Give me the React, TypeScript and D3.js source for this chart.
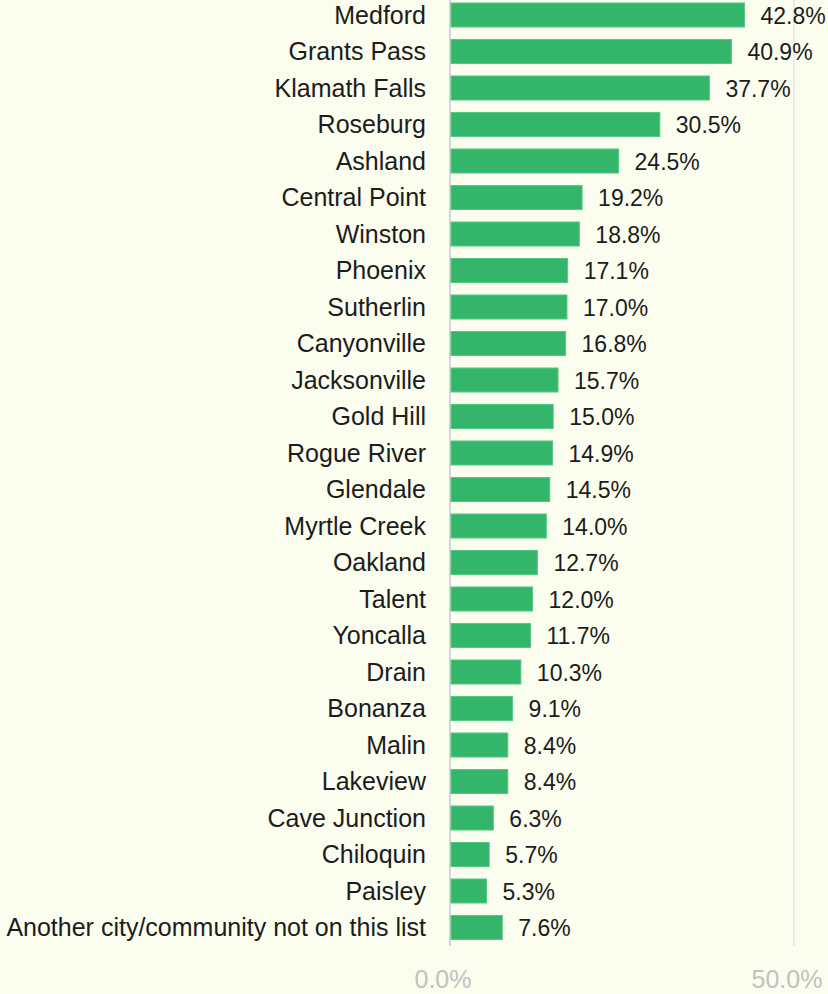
import * as d3 from 'd3'
import { useEffect, useRef } from 'react'

const WIDTH = 828
const HEIGHT = 994
const X0 = 450
const X1 = 794
const FONT = '"Liberation Sans", Arial, sans-serif'

const cities = [
  'Medford', 'Grants Pass', 'Klamath Falls', 'Roseburg', 'Ashland',
  'Central Point', 'Winston', 'Phoenix', 'Sutherlin', 'Canyonville',
  'Jacksonville', 'Gold Hill', 'Rogue River', 'Glendale', 'Myrtle Creek',
  'Oakland', 'Talent', 'Yoncalla', 'Drain', 'Bonanza',
  'Malin', 'Lakeview', 'Cave Junction', 'Chiloquin', 'Paisley',
  'Another city/community not on this list',
]
const shares = [
  42.8, 40.9, 37.7, 30.5, 24.5,
  19.2, 18.8, 17.1, 17.0, 16.8,
  15.7, 15.0, 14.9, 14.5, 14.0,
  12.7, 12.0, 11.7, 10.3, 9.1,
  8.4, 8.4, 6.3, 5.7, 5.3,
  7.6,
]
const ticks = [0, 50]

export default function App() {
  const svgRef = useRef<SVGSVGElement>(null)

  useEffect(() => {
    document.body.style.margin = '0'
    if (!svgRef.current) return
    const svg = d3.select(svgRef.current)
    svg.selectAll('*').remove()

    const rows = cities.map((name, i) => ({ name, value: shares[i] }))

    const x = d3.scaleLinear().domain([0, 50]).range([X0, X1])
    const y = d3.scaleBand<string>()
      .domain(cities)
      .range([-3.25, 945.75])
      .paddingInner(0.342)
      .paddingOuter(0.171)

    svg.append('rect')
      .attr('width', WIDTH)
      .attr('height', HEIGHT)
      .attr('fill', '#fbfdee')

    // gridlines at 0 and 50
    svg.selectAll('.grid')
      .data(ticks)
      .enter()
      .append('line')
      .attr('x1', d => x(d))
      .attr('x2', d => x(d))
      .attr('y1', 0)
      .attr('y2', 946)
      .attr('stroke', d => d === 0 ? '#d6d6d2' : '#ebebe4')
      .attr('stroke-width', 2)

    svg.selectAll('.tick-label')
      .data(ticks)
      .enter()
      .append('text')
      .attr('x', d => x(d) - 7)
      .attr('y', 988)
      .attr('text-anchor', 'middle')
      .attr('font-family', FONT)
      .attr('font-size', 25)
      .attr('fill', '#c2c2c0')
      .text(d => `${d.toFixed(1)}%`)

    const rowGs = svg.selectAll('.row')
      .data(rows)
      .enter()
      .append('g')
      .attr('transform', d => `translate(0, ${y(d.name)! + y.bandwidth() / 2})`)

    rowGs.append('rect')
      .attr('x', x(0) + 1)
      .attr('y', -y.bandwidth() / 2)
      .attr('width', d => x(d.value) - x(0) - 1)
      .attr('height', y.bandwidth())
      .attr('fill', '#33b66a')
      .attr('stroke', '#55c888')
      .attr('stroke-width', 1)

    rowGs.append('text')
      .attr('x', X0 - 24)
      .attr('y', 0)
      .attr('dy', '0.35em')
      .attr('text-anchor', 'end')
      .attr('font-family', FONT)
      .attr('font-size', 25)
      .attr('fill', '#1c1c1c')
      .text(d => d.name)

    rowGs.append('text')
      .attr('x', d => x(d.value) + 16)
      .attr('y', 0)
      .attr('dy', '0.38em')
      .attr('font-family', FONT)
      .attr('font-size', 23)
      .attr('fill', '#1c1c1c')
      .text(d => `${d.value.toFixed(1)}%`)
  }, [])

  return (
    <svg
      ref={svgRef}
      width={WIDTH}
      height={HEIGHT}
      style={{ display: 'block', position: 'absolute', left: 0, top: 0 }}
    />
  )
}
